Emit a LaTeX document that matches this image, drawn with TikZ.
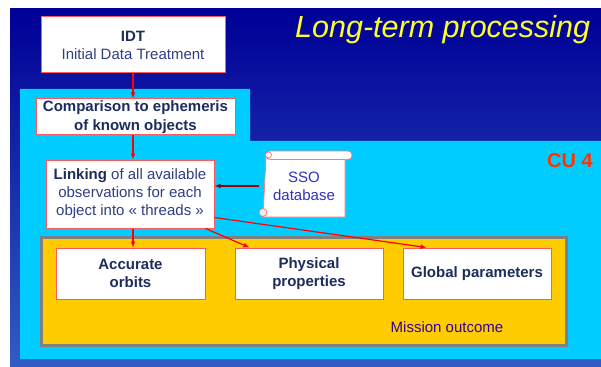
\documentclass[tikz,border=0pt]{standalone}
\usepackage{fontspec}
\setmainfont{Liberation Sans}
\usepackage{xcolor}
\usetikzlibrary{arrows.meta}
\definecolor{bgtop}{RGB}{0,0,150}
\definecolor{bgbot}{RGB}{50,92,195}
\definecolor{cuback}{RGB}{0,204,255}
\definecolor{outfill}{RGB}{255,204,0}
\definecolor{outframe}{RGB}{128,128,128}
\definecolor{boxred}{RGB}{255,90,90}
\definecolor{navy}{RGB}{28,44,92}
\definecolor{softnavy}{RGB}{48,62,130}
\definecolor{ssoblue}{RGB}{50,50,185}
\definecolor{indigo}{RGB}{51,0,153}
\definecolor{darkred}{RGB}{150,0,0}
\definecolor{cured}{RGB}{255,51,0}
\definecolor{titleyellow}{RGB}{255,255,40}

\begin{document}
\begin{tikzpicture}[x=1pt,y=-1pt,>=Latex,
  font=\fontsize{15}{18}\selectfont,
  box/.style={draw=boxred,fill=white,line width=1pt,align=center,
    inner sep=0pt,text=navy},
  redarrow/.style={-{Latex[length=6pt,width=5pt]},red,line width=1.2pt}]
  \useasboundingbox (0,0) rectangle (601,366);
  % background and CU 4 area
  \shade[top color=bgtop,bottom color=bgbot] (10,9) rectangle (601,366);
  \fill[cuback] (20,89) -- (250,89) -- (250,141) -- (601,141)
    -- (601,359) -- (20,359) -- cycle;
  \fill[outfill,draw=outframe,line width=3pt] (41.5,237.5) rectangle (566.5,345.5);
  % titles
  \node[anchor=base west,inner sep=0pt,text=titleyellow,
    font=\fontsize{30.5}{36}\selectfont\itshape] (title) at (295,38) {Long-term processing};
  \node[anchor=base east,inner sep=0pt,text=cured,
    font=\fontsize{20}{24}\selectfont\bfseries] (cu) at (593,167) {CU 4};
  \node[anchor=base,inner sep=0pt,text=indigo] (outcome) at (447,332) {Mission outcome};
  % processing boxes
  \node[box,minimum width=184pt,minimum height=56pt] (idt) at (133,45)
    {\textbf{IDT}\\\textcolor{softnavy}{Initial Data Treatment}};
  \node[box,minimum width=199pt,minimum height=36pt,font=\fontsize{15}{19}\selectfont\bfseries]
    (cmp) at (135.5,117) {Comparison to ephemeris\\of known objects};
  \node[box,minimum width=168pt,minimum height=68pt,text=softnavy] (link) at (130,194)
    {\textcolor{navy}{\textbf{Linking}} of all available\\observations for each\\object into « threads »};
  \node[box,minimum width=149pt,minimum height=51pt,font=\fontsize{15}{18}\selectfont\bfseries]
    (orbits) at (130.5,273.5) {Accurate\\orbits};
  \node[box,minimum width=148pt,minimum height=51pt,font=\fontsize{15}{18}\selectfont\bfseries]
    (phys) at (309,273.5) {Physical\\properties};
  \node[box,minimum width=148pt,minimum height=51pt,font=\fontsize{15}{18}\selectfont\bfseries]
    (glob) at (477,273.5) {Global parameters};
  % SSO scroll
  \draw[boxred!80,fill=white,line width=0.8pt] (266,157) -- (345,157) -- (345,217)
    -- (263,217) -- cycle;
  \draw[boxred!80,fill=white,line width=0.8pt,rounded corners=4pt]
    (266,151) rectangle (352,159.5);
  \draw[boxred!80,fill=white,line width=0.8pt] (268.5,155) circle (3);
  \draw[boxred!80,fill=gray!15,line width=0.8pt] (263,212.5) circle (4);
  \node[inner sep=0pt,minimum width=82pt,minimum height=62pt,align=center,
    text=ssoblue] (sso) at (304,186) {SSO\\database};
  % connectors
  \draw[redarrow] (idt.south) -- (idt.south |- cmp.north);
  \draw[redarrow] (idt.south |- cmp.south) -- (idt.south |- link.north);
  \draw[redarrow,darkred] ([xshift=-4pt]sso.west) -- (sso.west -| link.east);
  \draw[redarrow] (idt.south |- link.south) -- (idt.south |- orbits.north);
  \draw[redarrow] ([xshift=-9pt]link.south east) -- ([xshift=15pt]phys.north west);
  \draw[redarrow] ([yshift=11pt]link.south east) -- ([xshift=24pt]glob.north west);
\end{tikzpicture}
\end{document}
